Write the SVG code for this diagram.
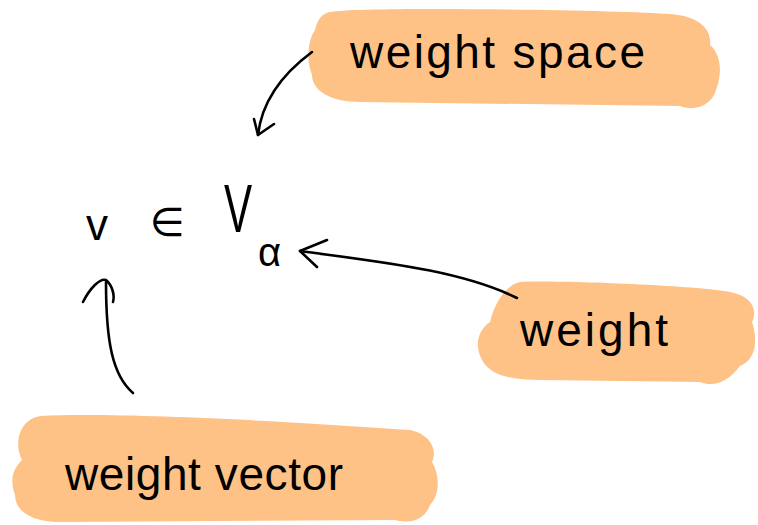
<svg xmlns="http://www.w3.org/2000/svg" width="758" height="525" viewBox="0 0 758 525">
<style>
.blob{fill:#FEC287;stroke:none}
.lbl{font-family:"Liberation Sans","DejaVu Sans",sans-serif;font-size:46px;fill:#000}
.math{font-family:"Liberation Sans","DejaVu Sans",sans-serif;fill:#000}
.ink{fill:none;stroke:#000;stroke-width:2.6;stroke-linecap:round;stroke-linejoin:round}
</style>
<rect width="758" height="525" fill="#fff"/>
<g id="weight-space">
<path class="blob" d="M330,12 C360,6 620,10 670,14 C700,16 712,30 710,45 C722,55 722,75 716,90 C712,105 695,112 680,106 L360,102 C330,102 312,90 312,75 C306,60 308,40 315,30 C318,18 322,14 330,12 Z"/>
<text class="lbl" x="350" y="68" textLength="295" lengthAdjust="spacing">weight space</text>
</g>
<g id="weight">
<path class="blob" d="M520,282 C560,280 700,286 730,292 C752,296 758,310 752,322 C758,340 756,360 740,366 C730,380 715,388 700,382 L540,380 C510,380 490,375 482,360 C474,345 478,330 490,322 C494,305 505,285 520,282 Z"/>
<text class="lbl" x="520" y="346" textLength="148" lengthAdjust="spacing">weight</text>
</g>
<g id="weight-vector">
<path class="blob" d="M40,416 C120,412 300,422 410,430 C430,434 438,450 432,462 C440,475 440,495 430,505 C425,520 410,524 395,520 L60,522 C30,522 15,510 15,495 C10,480 12,470 22,460 C14,445 18,420 40,416 Z"/>
<text class="lbl" x="65" y="490" textLength="278" lengthAdjust="spacing">weight vector</text>
</g>
<g id="formula">
<text class="math" x="86" y="240" font-size="44">v</text>
<text class="math" x="150" y="236" font-size="40">∈</text>
<text class="math" transform="translate(224,232) scale(0.62,1)" x="0" y="0" font-size="68">V</text>
<text class="math" x="258" y="266" font-size="40">α</text>
</g>
<g id="connectors">
<path class="ink" d="M312,52 C285,72 262,100 258,135"/>
<path class="ink" d="M254,119 L258,135 L274,124"/>
<path class="ink" d="M517,298 C460,270 380,262 300,251"/>
<path class="ink" d="M327,240 L300,251 L317,267"/>
<path class="ink" d="M133,393 C112,375 106,340 106,282"/>
<path class="ink" d="M83,302 C90,288 100,278 106,280 C112,285 115,295 113,302"/>
</g>
</svg>
